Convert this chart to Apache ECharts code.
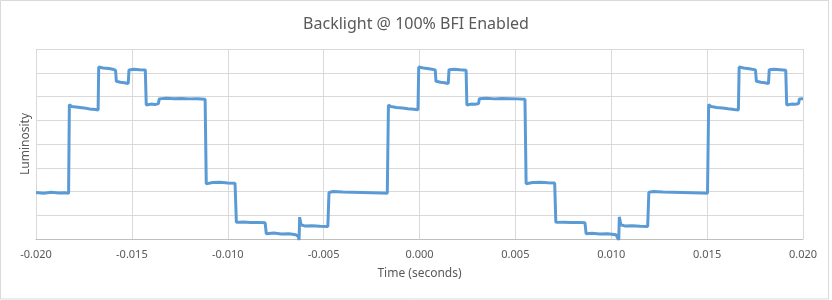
<!DOCTYPE html>
<html>
<head>
<meta charset="utf-8">
<script src="https://cdn.jsdelivr.net/npm/echarts@6/dist/echarts.min.js"></script>
<style>
html,body{margin:0;padding:0;background:#fff;}
#chart{width:832px;height:300px;}
</style>
</head>
<body>
<div id="chart"></div>
<script>
// Time (s) and luminosity (relative units), per cycle
var cycle1Time = [-0.0200,-0.0196,-0.0192,-0.0188,-0.0185,-0.01830,
  -0.01826,-0.01815,-0.0178,-0.0175,-0.0172,-0.0169,-0.01676,
  -0.01673,-0.0165,-0.0162,-0.0160,-0.01585,
  -0.01581,-0.0156,-0.0154,-0.01519,
  -0.01515,-0.0149,-0.0146,-0.01430,
  -0.01425,-0.0140,-0.0138,-0.01362,
  -0.01357,-0.0132,-0.0128,-0.0124,-0.0120,-0.0116,-0.01118,
  -0.01112,-0.01108,-0.0108,-0.0104,-0.0100,-0.00962,
  -0.00955,-0.0092,-0.0088,-0.0084,-0.00805,
  -0.00799,-0.0076,-0.0072,-0.0068,-0.00645,-0.00632,-0.00628,
  -0.00625,-0.00618,-0.0060,-0.0056,-0.0052,-0.00478,
  -0.00472,-0.0045,-0.0040,-0.0035,-0.0030,-0.0025,-0.0020,-0.00168];
var cycle1Lum = [1.96,1.93,1.97,1.94,1.95,1.92,
  5.66,5.58,5.55,5.52,5.47,5.45,5.43,
  7.24,7.20,7.18,7.15,7.10,
  6.64,6.60,6.58,6.55,
  7.12,7.15,7.13,7.12,
  5.64,5.68,5.66,5.70,
  5.90,5.93,5.91,5.92,5.90,5.91,5.88,
  2.32,2.40,2.38,2.39,2.36,2.35,
  0.70,0.72,0.69,0.70,0.68,
  0.22,0.25,0.21,0.22,0.18,0.10,-0.05,
  0.92,0.60,0.55,0.56,0.54,0.53,
  1.96,2.00,1.98,1.97,1.96,1.95,1.94,1.93];

var cycle2Time = [-0.00162,-0.0015,-0.0012,-0.0009,-0.0006,-0.0003,-0.00008,
  -0.00004,0.0002,0.0005,0.00082,
  0.00086,0.0011,0.0013,0.00150,
  0.00154,0.0018,0.0021,0.00243,
  0.00247,0.0027,0.0029,0.00308,
  0.00312,0.0035,0.0039,0.0043,0.0047,0.0051,0.00550,
  0.00556,0.0056,0.0059,0.0063,0.0067,0.00705,
  0.00711,0.0075,0.0079,0.0083,0.00863,
  0.00869,0.0090,0.0094,0.0098,0.01025,0.01035,0.01039,
  0.01042,0.0105,0.0107,0.0111,0.0115,0.01190,
  0.01196,0.0122,0.0127,0.0132,0.0137,0.0142,0.0147,0.01502];
var cycle2Lum = [5.64,5.58,5.54,5.52,5.48,5.46,5.44,
  7.24,7.20,7.17,7.12,
  6.64,6.60,6.58,6.55,
  7.13,7.15,7.13,7.11,
  5.64,5.68,5.67,5.70,
  5.91,5.93,5.90,5.92,5.91,5.90,5.88,
  2.33,2.40,2.38,2.39,2.37,2.36,
  0.70,0.71,0.69,0.70,0.68,
  0.22,0.24,0.21,0.22,0.18,0.10,-0.05,
  0.93,0.60,0.55,0.56,0.54,0.53,
  1.97,2.00,1.98,1.97,1.96,1.95,1.94,1.93];

var cycle3Time = [0.01508,0.0152,0.0155,0.0158,0.0161,0.0164,0.01663,
  0.01667,0.0169,0.0172,0.01752,
  0.01757,0.0178,0.0180,0.01820,
  0.01824,0.0185,0.0188,0.01910,
  0.01915,0.0194,0.0196,0.01977,
  0.01981,0.0200];
var cycle3Lum = [5.66,5.58,5.54,5.52,5.48,5.45,5.43,
  7.24,7.20,7.17,7.12,
  6.64,6.60,6.58,6.55,
  7.13,7.15,7.13,7.11,
  5.64,5.68,5.67,5.70,
  5.90,5.91];

var xTicks = [-0.020,-0.015,-0.010,-0.005,0.000,0.005,0.010,0.015,0.020];

function pairs(t, v) { return t.map(function (x, i) { return [x, v[i]]; }); }
var seriesData = pairs(cycle1Time, cycle1Lum)
  .concat(pairs(cycle2Time, cycle2Lum))
  .concat(pairs(cycle3Time, cycle3Lum));

var chart = echarts.init(document.getElementById('chart'), null, {renderer: 'canvas'});
var font = '"Noto Sans", "Open Sans", sans-serif';
chart.setOption({
  animation: false,
  backgroundColor: '#ffffff',
  title: {
    text: 'Backlight @ 100% BFI Enabled',
    left: 'center',
    top: 11,
    textStyle: {fontFamily: font, fontSize: 16, fontWeight: 'normal', color: '#595959'}
  },
  graphic: [{
    type: 'rect', silent: true,
    shape: {x: 0.5, y: 0.5, width: 828, height: 298.5},
    style: {fill: 'none', stroke: '#d9d9d9', lineWidth: 1}
  }],
  grid: {left: 36, right: 29, top: 49, bottom: 61, containLabel: false},
  xAxis: {
    type: 'value',
    min: xTicks[0], max: xTicks[xTicks.length - 1], interval: 0.005,
    name: 'Time (seconds)', nameLocation: 'middle', nameGap: 29,
    nameTextStyle: {fontFamily: font, fontSize: 12, color: '#595959'},
    axisLine: {show: true, lineStyle: {color: '#bfbfbf'}},
    axisTick: {show: false},
    axisLabel: {
      fontFamily: font, fontSize: 11, color: '#595959', margin: 10,
      formatter: function (v) { return v.toFixed(3); }
    },
    splitLine: {show: true, lineStyle: {color: '#d9d9d9'}}
  },
  yAxis: {
    type: 'value', min: 0, max: 8, interval: 1,
    name: 'Luminosity', nameLocation: 'middle', nameGap: 4, nameRotate: 90,
    nameTextStyle: {fontFamily: font, fontSize: 12, color: '#595959'},
    axisLine: {show: false}, axisTick: {show: false},
    axisLabel: {show: false},
    splitLine: {show: true, lineStyle: {color: '#d9d9d9'}}
  },
  series: [{
    type: 'line',
    data: seriesData,
    showSymbol: false,
    symbol: 'none',
    clip: true,
    lineStyle: {color: '#5b9bd5', width: 3},
    itemStyle: {color: '#5b9bd5'}
  }]
});
</script>
</body>
</html>
